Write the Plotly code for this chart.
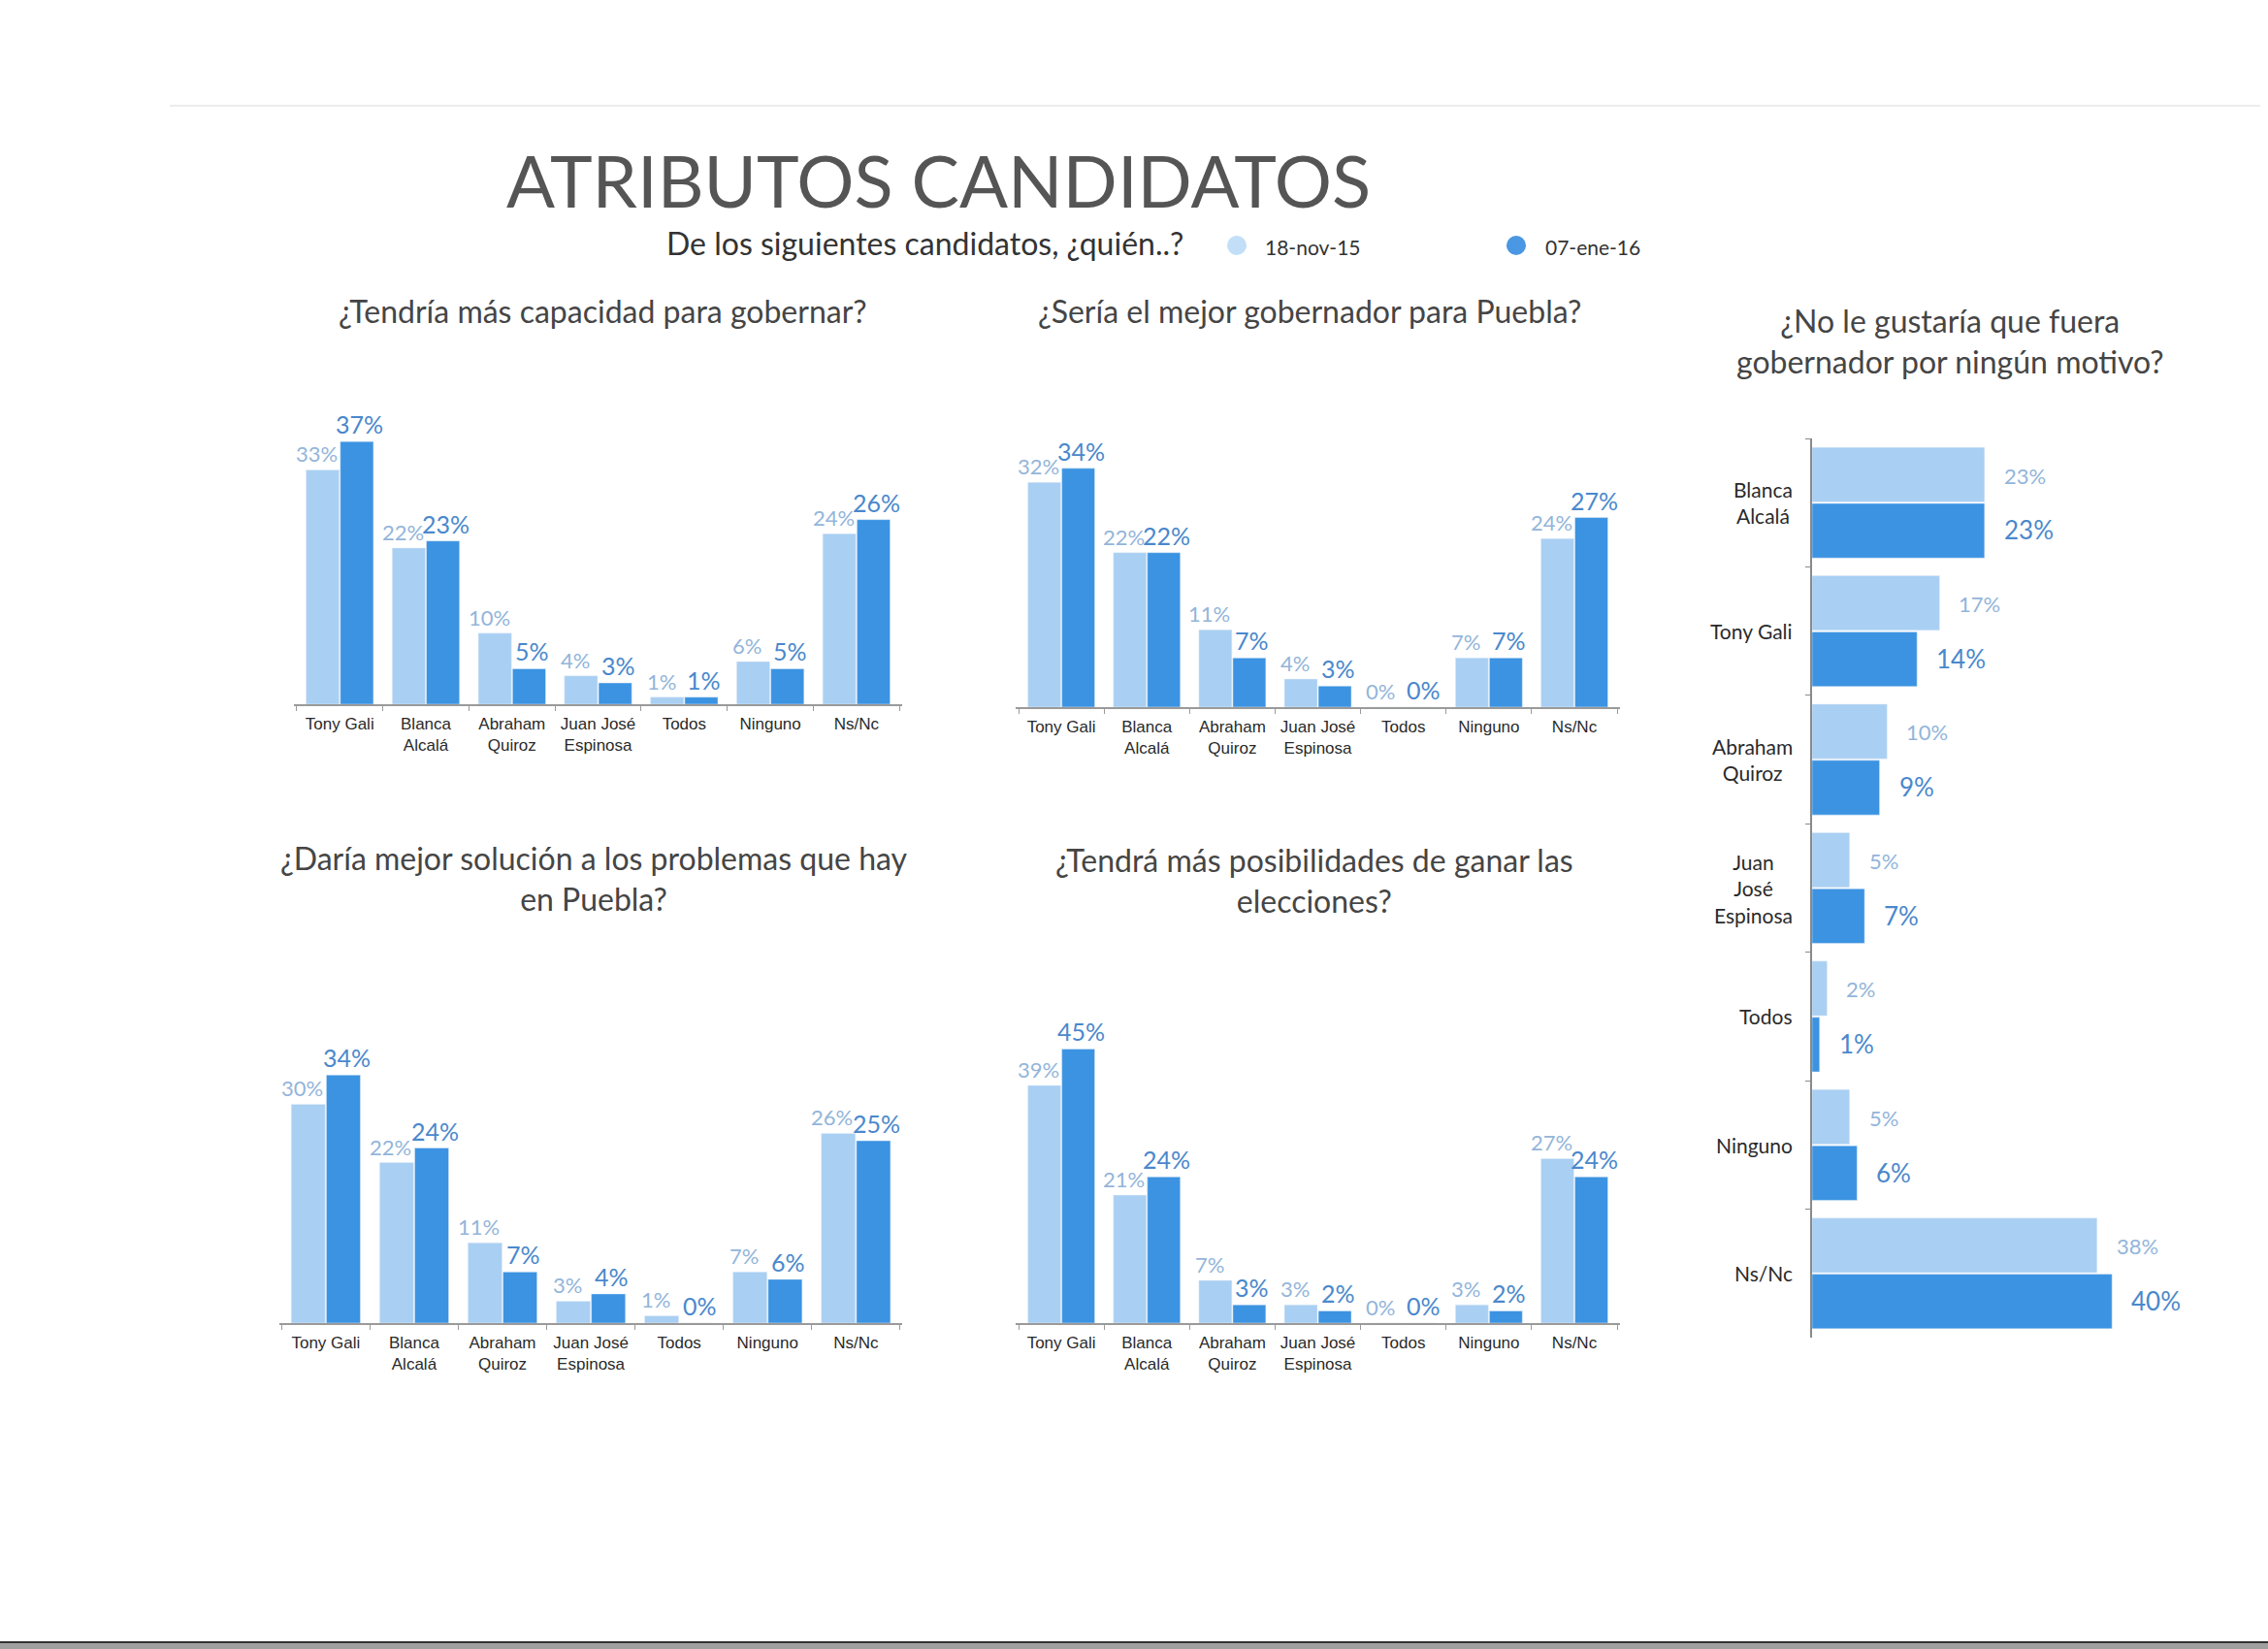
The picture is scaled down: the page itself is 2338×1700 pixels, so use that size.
import plotly.graph_objects as go

# ---------------- data ----------------
categories = ["Tony Gali", "Blanca Alcalá", "Abraham Quiroz", "Juan José Espinosa",
              "Todos", "Ninguno", "Ns/Nc"]
tick_labels = ["Tony Gali", "Blanca<br>Alcalá", "Abraham<br>Quiroz", "Juan José<br>Espinosa",
               "Todos", "Ninguno", "Ns/Nc"]

series_names = ["18-nov-15", "07-ene-16"]

capacidad_nov = [33, 22, 10, 4, 1, 6, 24]
capacidad_ene = [37, 23, 5, 3, 1, 5, 26]

mejor_nov = [32, 22, 11, 4, 0, 7, 24]
mejor_ene = [34, 22, 7, 3, 0, 7, 27]

solucion_nov = [30, 22, 11, 3, 1, 7, 26]
solucion_ene = [34, 24, 7, 4, 0, 6, 25]

ganar_nov = [39, 21, 7, 3, 0, 3, 27]
ganar_ene = [45, 24, 3, 2, 0, 2, 24]

rechazo_cats = ["Blanca Alcalá", "Tony Gali", "Abraham Quiroz", "Juan José Espinosa",
                "Todos", "Ninguno", "Ns/Nc"]
rechazo_labels = ["Blanca<br>Alcalá", "Tony Gali", "Abraham<br>Quiroz", "Juan<br>José<br>Espinosa",
                  "Todos", "Ninguno", "Ns/Nc"]
rechazo_nov = [23, 17, 10, 5, 2, 5, 38]
rechazo_ene = [23, 14, 9, 7, 1, 6, 40]

titulo = "ATRIBUTOS CANDIDATOS"
subtitulo = "De los siguientes candidatos, ¿quién..?"
pregunta_1 = "¿Tendría más capacidad para gobernar?"
pregunta_2 = "¿Sería el mejor gobernador para Puebla?"
pregunta_3 = "¿Daría mejor solución a los problemas que hay<br>en Puebla?"
pregunta_4 = "¿Tendrá más posibilidades de ganar las<br>elecciones?"
pregunta_5 = "¿No le gustaría que fuera<br>gobernador por ningún motivo?"

# ---------------- style ----------------
W, H = 2338, 1700
LIGHT = "#a9cff3"
DARK = "#3b93e2"
LIGHT_TXT = "#93b5da"
DARK_TXT = "#4a88cc"
FONT = "Lato, 'Open Sans', sans-serif"
NARROW = "'Liberation Sans Narrow', 'Arial Narrow', 'Liberation Sans', Arial, sans-serif"
TITLE_COL = "#454545"


def px_x(p):
    return p / W


def px_y(p):
    return 1 - p / H


fig = go.Figure()
annotations = []
shapes = []
layout_axes = {}

BW = 0.385  # bar width in category units (vertical panels)
panels = [
    # axis suffix, nov, ene, title, x-left, x-right, baseline, px per %, title x, title y
    ("", capacidad_nov, capacidad_ene, pregunta_1, 303, 930, 726, 7.32, 621, 320),
    ("2", mejor_nov, mejor_ene, pregunta_2, 1047, 1670, 729, 7.24, 1350, 320),
    ("3", solucion_nov, solucion_ene, pregunta_3, 288, 930, 1364, 7.52, 612, 905),
    ("4", ganar_nov, ganar_ene, pregunta_4, 1047, 1670, 1364, 6.28, 1355, 907),
]

for suf, nov, ene, title, xl, xr, base, scale, tx, ty in panels:
    xa, ya = "x" + suf, "y" + suf
    fig.add_trace(go.Bar(x=categories, y=nov, name=series_names[0], marker_color=LIGHT,
                         width=BW, offset=-BW - 0.006, xaxis=xa, yaxis=ya, showlegend=False))
    fig.add_trace(go.Bar(x=categories, y=ene, name=series_names[1], marker_color=DARK,
                         width=BW, offset=0.006, xaxis=xa, yaxis=ya, showlegend=False))
    top = base - 330
    layout_axes["xaxis" + suf] = dict(
        domain=[px_x(xl), px_x(xr)], anchor=ya, type="category",
        tickvals=categories, ticktext=tick_labels, tickangle=0,
        showline=True, linecolor="#9a9a9a", linewidth=1.5,
        ticks="outside", tickson="boundaries", ticklen=5, tickcolor="#9a9a9a",
        ticklabelstandoff=4,
        tickfont=dict(family=NARROW, size=17, color="#2a2a2a"),
        showgrid=False, zeroline=False, fixedrange=True,
    )
    layout_axes["yaxis" + suf] = dict(
        domain=[px_y(base), px_y(top)], anchor=xa, range=[0, 330 / scale],
        visible=False, showgrid=False, zeroline=False,
    )
    for i, (a, b) in enumerate(zip(nov, ene)):
        annotations.append(dict(x=i - BW / 2 - 0.075, y=a, xref=xa, yref=ya, text=f"{a}%",
                                showarrow=False, yanchor="bottom", yshift=1,
                                font=dict(family=FONT, size=22, color=LIGHT_TXT)))
        annotations.append(dict(x=i + BW / 2 + 0.04, y=b, xref=xa, yref=ya, text=f"{b}%",
                                showarrow=False, yanchor="bottom", yshift=1,
                                font=dict(family=FONT, size=25, color=DARK_TXT)))
    annotations.append(dict(x=px_x(tx), y=px_y(ty), xref="paper", yref="paper", text=title,
                            showarrow=False, xanchor="center", yanchor="middle",
                            font=dict(family=FONT, size=32, color=TITLE_COL)))

# ---------------- horizontal panel ----------------
HB = 0.425
fig.add_trace(go.Bar(y=rechazo_cats, x=rechazo_nov, orientation="h", name=series_names[0],
                     marker_color=LIGHT, width=HB, offset=-HB - 0.006,
                     xaxis="x5", yaxis="y5", showlegend=False))
fig.add_trace(go.Bar(y=rechazo_cats, x=rechazo_ene, orientation="h", name=series_names[1],
                     marker_color=DARK, width=HB, offset=0.006,
                     xaxis="x5", yaxis="y5", showlegend=False))
layout_axes["xaxis5"] = dict(domain=[px_x(1868), px_x(2300)], anchor="y5",
                             range=[0, 432 / 7.73], visible=False)
layout_axes["yaxis5"] = dict(domain=[px_y(1379), px_y(452)], anchor="x5", type="category",
                             autorange="reversed", showticklabels=False,
                             showline=True, linecolor="#8a8a8a", linewidth=1.5,
                             ticks="outside", tickson="boundaries", ticklen=5,
                             tickcolor="#8a8a8a", showgrid=False, zeroline=False)
for i, (a, b) in enumerate(zip(rechazo_nov, rechazo_ene)):
    annotations.append(dict(x=a, y=i - HB / 2, xref="x5", yref="y5", text=f"{a}%",
                            showarrow=False, xanchor="left", xshift=18,
                            font=dict(family=FONT, size=22, color=LIGHT_TXT)))
    annotations.append(dict(x=b, y=i + HB / 2, xref="x5", yref="y5", text=f"{b}%",
                            showarrow=False, xanchor="left", xshift=18,
                            font=dict(family=FONT, size=26, color=DARK_TXT)))
for i, lab in enumerate(rechazo_labels):
    annotations.append(dict(x=px_x(1850), y=i, xref="paper", yref="y5", text=lab,
                            showarrow=False, xanchor="right", align="center",
                            font=dict(family=FONT, size=21, color="#2a2a2a")))
annotations.append(dict(x=px_x(2010), y=px_y(352), xref="paper", yref="paper", text=pregunta_5,
                        showarrow=False, xanchor="center", yanchor="middle",
                        font=dict(family=FONT, size=32, color=TITLE_COL)))

# ---------------- header ----------------
annotations.append(dict(x=px_x(967), y=px_y(186), xref="paper", yref="paper", text=titulo,
                        showarrow=False, xanchor="center", yanchor="middle",
                        font=dict(family=FONT, size=74, color="#555555")))
annotations.append(dict(x=px_x(1222), y=px_y(250), xref="paper", yref="paper", text=subtitulo,
                        showarrow=False, xanchor="right", yanchor="middle",
                        font=dict(family=FONT, size=32, color="#333333")))
legend_pos = [(1275, 1302, "#c3dff8"), (1563, 1591, "#4a97e3")]
for (cx, tx0, col), name in zip(legend_pos, series_names):
    r = 10
    shapes.append(dict(type="circle", xref="paper", yref="paper",
                       x0=px_x(cx - r), x1=px_x(cx + r), y0=px_y(253 + r), y1=px_y(253 - r),
                       fillcolor=col, line=dict(width=0)))
    annotations.append(dict(x=px_x(tx0), y=px_y(254), xref="paper", yref="paper", text=name,
                            showarrow=False, xanchor="left", yanchor="middle",
                            font=dict(family=FONT, size=21, color="#333333")))

# scan edge lines
shapes.append(dict(type="line", xref="paper", yref="paper", x0=px_x(175), x1=px_x(2330),
                   y0=px_y(109), y1=px_y(109), line=dict(color="#ededed", width=2)))
shapes.append(dict(type="rect", xref="paper", yref="paper", x0=0, x1=1,
                   y0=0, y1=px_y(1693), fillcolor="#a0a0a0", line=dict(width=0)))
shapes.append(dict(type="line", xref="paper", yref="paper", x0=0, x1=1,
                   y0=px_y(1693), y1=px_y(1693), line=dict(color="#333333", width=2)))

fig.update_layout(
    width=W, height=H, margin=dict(l=0, r=0, t=0, b=0),
    paper_bgcolor="white", plot_bgcolor="white",
    barmode="overlay", showlegend=False,
    annotations=annotations, shapes=shapes,
    font=dict(family=FONT),
    **layout_axes,
)

fig.write_html("out.html", config={"displayModeBar": False})
